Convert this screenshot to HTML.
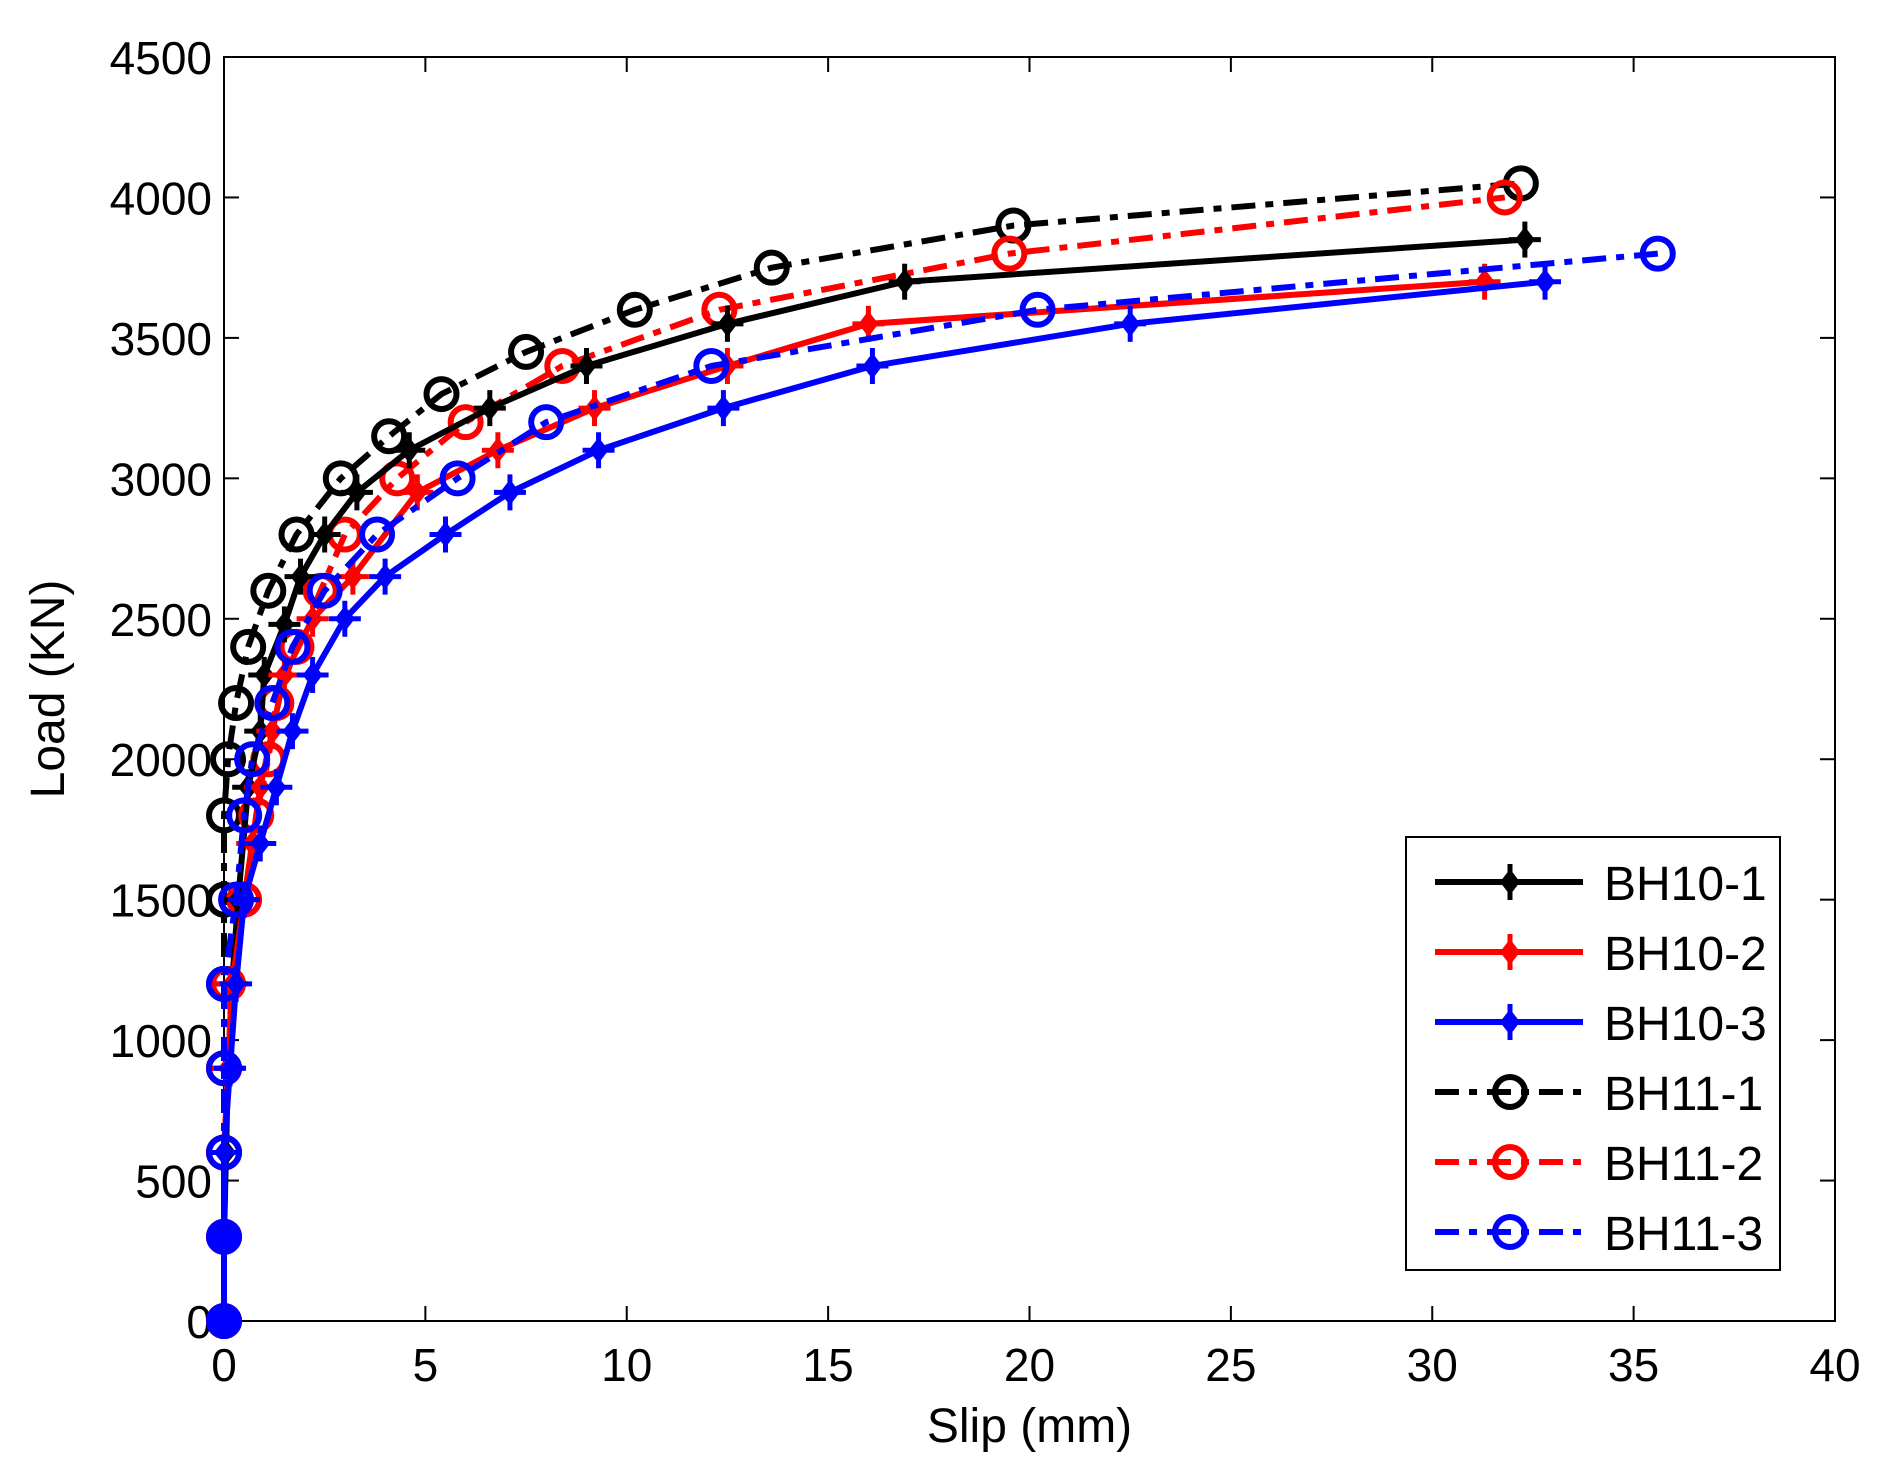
<!DOCTYPE html>
<html><head><meta charset="utf-8"><style>
body{margin:0;background:#fff}
svg{display:block;font-family:"Liberation Sans",Arial,sans-serif}
</style></head><body>
<svg id="chart" width="1879" height="1478" viewBox="0 0 1879 1478" xmlns="http://www.w3.org/2000/svg">
<rect width="1879" height="1478" fill="#fff"/>
<g id="plot"></g>
</svg>
<script>
const xTicks=[0,5,10,15,20,25,30,35,40];
const yTicks=[0,500,1000,1500,2000,2500,3000,3500,4000,4500];
const seriesNames=["BH10-1","BH10-2","BH10-3","BH11-1","BH11-2","BH11-3"];
const seriesColors=["#000","#f00","#00f","#000","#f00","#00f"];
const bh10_1_x=[0,0,0.05,0.1,0.2,0.35,0.6,0.9,1.0,1.5,1.9,2.5,3.3,4.6,6.6,9.0,12.5,16.9,32.3];
const bh10_1_y=[0,300,600,900,1200,1500,1900,2100,2300,2480,2650,2800,2950,3100,3250,3400,3550,3700,3850];
const bh10_2_x=[0,0,0,0.1,0.2,0.5,0.7,0.9,1.2,1.5,2.2,3.2,4.8,6.8,9.2,12.5,16,31.3];
const bh10_2_y=[0,300,600,900,1200,1500,1700,1900,2100,2300,2500,2650,2950,3100,3250,3400,3550,3700];
const bh10_3_x=[0,0,0,0.15,0.3,0.5,0.9,1.3,1.7,2.2,3.0,4.0,5.5,7.1,9.3,12.4,16.1,22.5,32.8];
const bh10_3_y=[0,300,600,900,1200,1500,1700,1900,2100,2300,2500,2650,2800,2950,3100,3250,3400,3550,3700];
const bh11_1_x=[0,0,0,0,0,0,0,0.1,0.3,0.6,1.1,1.8,2.9,4.1,5.4,7.5,10.2,13.6,19.6,32.2];
const bh11_1_y=[0,300,600,900,1200,1500,1800,2000,2200,2400,2600,2800,3000,3150,3300,3450,3600,3750,3900,4050];
const bh11_2_x=[0,0,0,0,0.1,0.5,0.8,1.1,1.3,1.8,2.4,3.0,4.3,6.0,8.4,12.3,19.5,31.8];
const bh11_2_y=[0,300,600,900,1200,1500,1800,2000,2200,2400,2600,2800,3000,3200,3400,3600,3800,4000];
const bh11_3_x=[0,0,0,0,0,0.3,0.5,0.7,1.2,1.7,2.5,3.8,5.8,8.0,12.1,20.2,35.6];
const bh11_3_y=[0,300,600,900,1200,1500,1800,2000,2200,2400,2600,2800,3000,3200,3400,3600,3800];

const NS="http://www.w3.org/2000/svg";
const L=224,R=1835,T=57,B=1321;
const sx=v=>L+(v/40)*(R-L);
const sy=v=>B-(v/4500)*(B-T);
const g=document.getElementById('plot');
function mk(tag,attrs,parent){const e=document.createElementNS(NS,tag);for(const k in attrs)e.setAttribute(k,attrs[k]);(parent||g).appendChild(e);return e;}

const box=mk('rect',{x:L,y:T,width:R-L,height:B-T,fill:'none',stroke:'#000','stroke-width':2});


xTicks.forEach(t=>{
  const x=sx(t);
  mk('line',{x1:x,y1:B,x2:x,y2:B-15,stroke:'#000','stroke-width':2});
  mk('line',{x1:x,y1:T,x2:x,y2:T+15,stroke:'#000','stroke-width':2});
  const tx=mk('text',{x:x,y:B+60,'font-size':46,'text-anchor':'middle',fill:'#000'});
  tx.textContent=t;
  
  
});
yTicks.forEach(t=>{
  const y=sy(t);
  mk('line',{x1:L,y1:y,x2:L+15,y2:y,stroke:'#000','stroke-width':2});
  mk('line',{x1:R,y1:y,x2:R-15,y2:y,stroke:'#000','stroke-width':2});
  const tx=mk('text',{x:L-12,y:y+17,'font-size':46,'text-anchor':'end',fill:'#000'});
  tx.textContent=t;
  
  
});
const xl=mk('text',{x:(L+R)/2,y:1442,'font-size':48,'text-anchor':'middle'});
xl.textContent='Slip (mm)';


const yl=mk('text',{x:0,y:0,'font-size':48,'text-anchor':'middle',transform:'translate(64,'+((T+B)/2)+') rotate(-90)'});
yl.textContent='Load (KN)';



function star(x,y,c,parent){
  const gg=mk('g',{},parent);
  mk('path',{d:`M${x} ${y-13}L${x+10} ${y}L${x} ${y+13}L${x-10} ${y}Z`,fill:c},gg);
  mk('line',{x1:x,y1:y-18,x2:x,y2:y+18,stroke:c,'stroke-width':5},gg);
  mk('line',{x1:x-16,y1:y,x2:x+16,y2:y,stroke:c,'stroke-width':5},gg);
  return gg;
}
function circ(x,y,c,parent){return mk('circle',{cx:x,cy:y,r:15,fill:'none',stroke:c,'stroke-width':6},parent);}

const allX=[bh10_1_x,bh10_2_x,bh10_3_x,bh11_1_x,bh11_2_x,bh11_3_x];
const allY=[bh10_1_y,bh10_2_y,bh10_3_y,bh11_1_y,bh11_2_y,bh11_3_y];
const dashes=['','','','24 10 8 10','24 10 8 10','24 10 8 10'];
[3,4,0,1,5,2].forEach(i=>{
  const sg=mk('g',{});
  
  
  const pts=allX[i].map((v,j)=>sx(v)+','+sy(allY[i][j])).join(' ');
  const pl=mk('polyline',{points:pts,fill:'none',stroke:seriesColors[i],'stroke-width':6,'stroke-dasharray':dashes[i],'stroke-linejoin':'round'},sg);
  
  
  allX[i].forEach((v,j)=>{
    const m=i<3?star(sx(v),sy(allY[i][j]),seriesColors[i],sg):circ(sx(v),sy(allY[i][j]),seriesColors[i],sg);
    
    
  });
});
[0,300].forEach(v=>{
  const d=mk('circle',{cx:sx(0),cy:sy(v),r:16,fill:'#00f'});
  
  
});

const lg=mk('g',{});


mk('rect',{x:1406,y:837,width:374,height:433,fill:'#fff',stroke:'#000','stroke-width':2},lg);
seriesNames.forEach((n,i)=>{
  const y=882+i*70;
  const e=mk('g',{},lg);
  
  
  mk('line',{x1:1435,y1:y,x2:1583,y2:y,stroke:seriesColors[i],'stroke-width':6,'stroke-dasharray':dashes[i]},e);
  if(i<3)star(1510,y,seriesColors[i],e);else circ(1510,y,seriesColors[i],e);
  const t=mk('text',{x:1604,y:y+18,'font-size':48,fill:'#000'},e);
  t.textContent=n;
});
</script>
</body></html>
